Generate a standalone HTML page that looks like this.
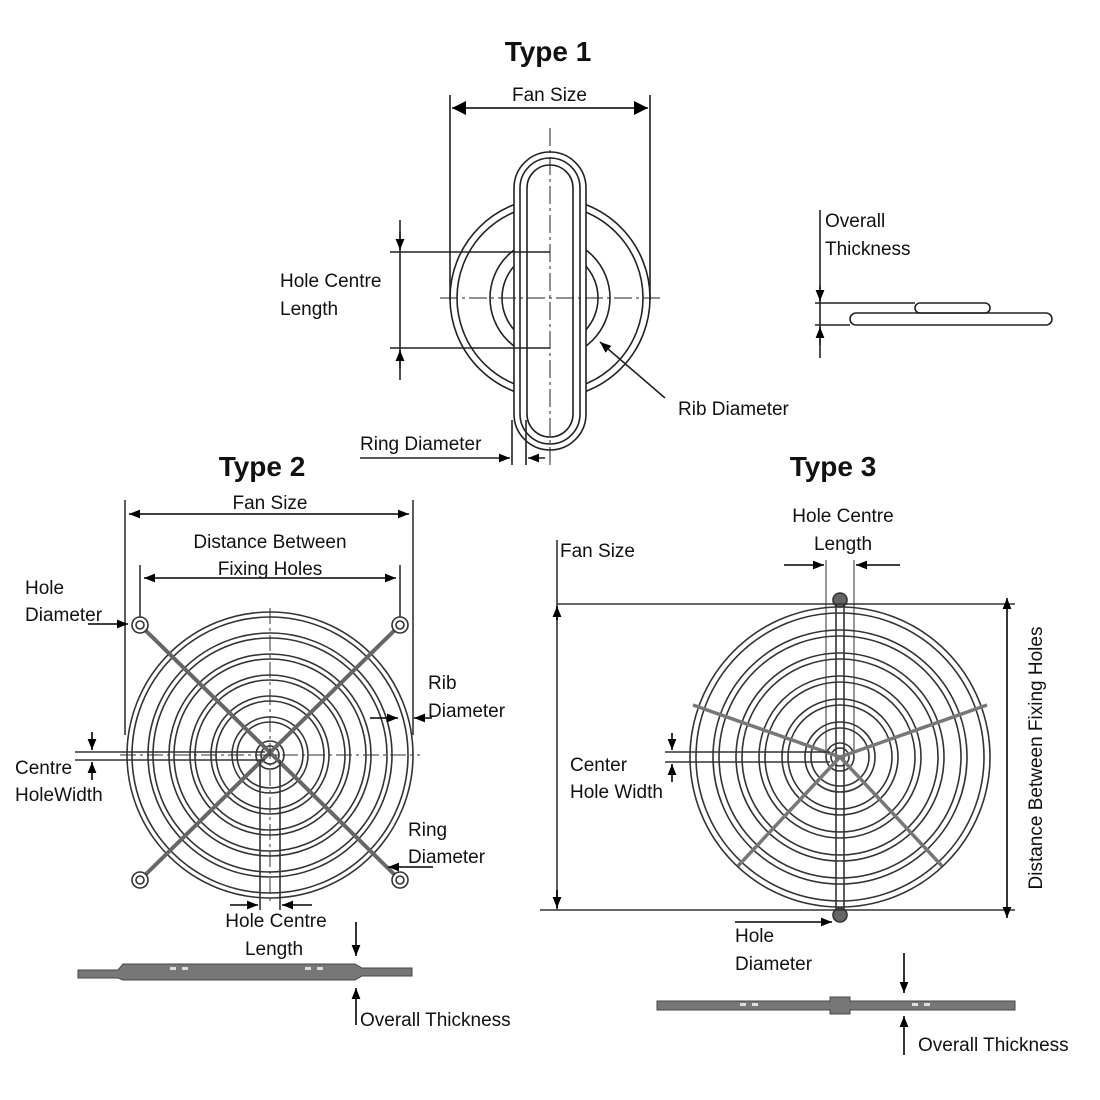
<!DOCTYPE html>
<html><head><meta charset="utf-8"><style>
html,body{margin:0;padding:0;background:#fff}
svg{display:block}
text{font-family:"Liberation Sans",sans-serif;fill:#111}
</style></head><body>
<svg width="1100" height="1100" viewBox="0 0 1100 1100" xmlns="http://www.w3.org/2000/svg">
<defs>
<marker id="a" viewBox="0 0 10 10" refX="10" refY="5" markerWidth="7" markerHeight="7" orient="auto-start-reverse"><path d="M0,1 L10,5 L0,9z" fill="#000"/></marker>
<marker id="b" viewBox="0 0 10 10" refX="10" refY="5" markerWidth="20" markerHeight="14" markerUnits="userSpaceOnUse" orient="auto-start-reverse"><path d="M0,0 L10,5 L0,10z" fill="#000"/></marker>
</defs>
<g font-size="19">
<!-- TYPE 1 -->
<text x="548" y="61" font-size="28" font-weight="bold" text-anchor="middle">Type 1</text>
<g stroke="#222" fill="none" stroke-width="1.6">
<line x1="450" y1="95" x2="450" y2="300"/><line x1="650" y1="95" x2="650" y2="300"/>
<line x1="452" y1="108" x2="648" y2="108" stroke="#000" stroke-width="1.5" marker-start="url(#b)" marker-end="url(#b)"/>
<circle cx="550" cy="298" r="100"/><circle cx="550" cy="298" r="93"/>
<circle cx="550" cy="298" r="60"/><circle cx="550" cy="298" r="48"/>
<rect x="514" y="152" width="72" height="298" rx="36" fill="#fff"/>
<rect x="520" y="158" width="60" height="286" rx="30"/>
<rect x="527" y="165" width="46" height="272" rx="23"/>
<line x1="440" y1="298" x2="660" y2="298" stroke-width="1" stroke-dasharray="18 4 3 4"/>
<line x1="550" y1="128" x2="550" y2="465" stroke-width="1" stroke-dasharray="18 4 3 4"/>
<line x1="390" y1="252" x2="550" y2="252"/><line x1="390" y1="348" x2="550" y2="348"/>
<line x1="400" y1="220" x2="400" y2="380"/>
<line x1="400" y1="232" x2="400" y2="250" marker-end="url(#a)"/>
<line x1="400" y1="368" x2="400" y2="350" marker-end="url(#a)"/>
<line x1="665" y1="398" x2="600" y2="342" marker-end="url(#a)"/>
<line x1="360" y1="458" x2="510" y2="458" marker-end="url(#a)"/>
<line x1="545" y1="458" x2="528" y2="458" marker-end="url(#a)"/>
<line x1="512" y1="420" x2="512" y2="465"/><line x1="526" y1="420" x2="526" y2="465"/>
<rect x="915" y="303" width="75" height="10" rx="5"/>
<rect x="850" y="313" width="202" height="12" rx="6"/>
<line x1="820" y1="210" x2="820" y2="358"/>
<line x1="815" y1="303" x2="915" y2="303"/><line x1="815" y1="325" x2="850" y2="325"/>
<line x1="820" y1="285" x2="820" y2="301" marker-end="url(#a)"/>
<line x1="820" y1="345" x2="820" y2="327" marker-end="url(#a)"/>
</g>
<text x="512" y="101">Fan Size</text>
<text x="280" y="287">Hole Centre</text><text x="280" y="315">Length</text>
<text x="678" y="415">Rib Diameter</text>
<text x="360" y="450">Ring Diameter</text>
<text x="825" y="227">Overall</text><text x="825" y="255">Thickness</text>

<!-- TYPE 2 -->
<text x="262" y="476" font-size="28" font-weight="bold" text-anchor="middle">Type 2</text>
<g stroke="#333" fill="none" stroke-width="1.6">
<line x1="125" y1="500" x2="125" y2="735"/><line x1="413" y1="500" x2="413" y2="735"/>
<line x1="129" y1="514" x2="409" y2="514" stroke="#000" marker-start="url(#a)" marker-end="url(#a)"/>
<line x1="140" y1="565" x2="140" y2="620"/><line x1="400" y1="565" x2="400" y2="620"/>
<line x1="144" y1="578" x2="396" y2="578" stroke="#000" marker-start="url(#a)" marker-end="url(#a)"/>
<circle cx="270" cy="755" r="143"/><circle cx="270" cy="755" r="138"/>
<circle cx="270" cy="755" r="122"/><circle cx="270" cy="755" r="117"/>
<circle cx="270" cy="755" r="101"/><circle cx="270" cy="755" r="96"/>
<circle cx="270" cy="755" r="80"/><circle cx="270" cy="755" r="75"/>
<circle cx="270" cy="755" r="59"/><circle cx="270" cy="755" r="54"/>
<circle cx="270" cy="755" r="38"/><circle cx="270" cy="755" r="33"/>
<circle cx="270" cy="755" r="14"/><circle cx="270" cy="755" r="9"/>
<line x1="140" y1="625" x2="400" y2="880" stroke-width="4" stroke="#666"/>
<line x1="400" y1="625" x2="140" y2="880" stroke-width="4" stroke="#666"/>
<line x1="270" y1="608" x2="270" y2="905" stroke-width="1" stroke-dasharray="16 4 3 4"/>
<line x1="120" y1="755" x2="420" y2="755" stroke-width="1" stroke-dasharray="16 4 3 4"/>
<circle cx="140" cy="625" r="8" fill="#fff"/><circle cx="140" cy="625" r="4"/>
<circle cx="400" cy="625" r="8" fill="#fff"/><circle cx="400" cy="625" r="4"/>
<circle cx="140" cy="880" r="8" fill="#fff"/><circle cx="140" cy="880" r="4"/>
<circle cx="400" cy="880" r="8" fill="#fff"/><circle cx="400" cy="880" r="4"/>
<line x1="88" y1="624" x2="128" y2="624" stroke="#000" marker-end="url(#a)"/>
<line x1="370" y1="718" x2="398" y2="718" stroke="#000" marker-end="url(#a)"/>
<line x1="432" y1="718" x2="414" y2="718" stroke="#000" marker-end="url(#a)"/>
<line x1="75" y1="752" x2="265" y2="752"/><line x1="75" y1="760" x2="265" y2="760"/>
<line x1="92" y1="732" x2="92" y2="750" stroke="#000" marker-end="url(#a)"/>
<line x1="92" y1="780" x2="92" y2="762" stroke="#000" marker-end="url(#a)"/>
<line x1="260" y1="760" x2="260" y2="910"/><line x1="280" y1="760" x2="280" y2="910"/>
<line x1="230" y1="905" x2="258" y2="905" stroke="#000" marker-end="url(#a)"/>
<line x1="312" y1="905" x2="282" y2="905" stroke="#000" marker-end="url(#a)"/>
<line x1="433" y1="867" x2="388" y2="867" stroke="#000" marker-end="url(#a)"/>
<line x1="356" y1="922" x2="356" y2="956" stroke="#000" marker-end="url(#a)"/>
<line x1="356" y1="1025" x2="356" y2="988" stroke="#000" marker-end="url(#a)"/>
</g>
<path d="M78,970 L118,970 L123,964 L355,964 L362,968 L412,968 L412,976 L362,976 L355,980 L123,980 L118,978 L78,978z" fill="#777" stroke="#444"/>
<g fill="#ddd"><rect x="170" y="967" width="6" height="3"/><rect x="182" y="967" width="6" height="3"/><rect x="305" y="967" width="6" height="3"/><rect x="317" y="967" width="6" height="3"/></g>
<text x="270" y="509" text-anchor="middle">Fan Size</text>
<text x="270" y="548" text-anchor="middle">Distance Between</text>
<text x="270" y="575" text-anchor="middle">Fixing Holes</text>
<text x="25" y="594">Hole</text><text x="25" y="621">Diameter</text>
<text x="428" y="689">Rib</text><text x="428" y="717">Diameter</text>
<text x="15" y="774">Centre</text><text x="15" y="801">HoleWidth</text>
<text x="408" y="836">Ring</text><text x="408" y="863">Diameter</text>
<text x="276" y="927" text-anchor="middle">Hole Centre</text>
<text x="274" y="955" text-anchor="middle">Length</text>
<text x="360" y="1026">Overall Thickness</text>

<!-- TYPE 3 -->
<text x="833" y="476" font-size="28" font-weight="bold" text-anchor="middle">Type 3</text>
<g stroke="#333" fill="none" stroke-width="1.6">
<circle cx="840" cy="757" r="150"/><circle cx="840" cy="757" r="144"/>
<circle cx="840" cy="757" r="127"/><circle cx="840" cy="757" r="121"/>
<circle cx="840" cy="757" r="104"/><circle cx="840" cy="757" r="98"/>
<circle cx="840" cy="757" r="81"/><circle cx="840" cy="757" r="75"/>
<circle cx="840" cy="757" r="58"/><circle cx="840" cy="757" r="52"/>
<circle cx="840" cy="757" r="35"/><circle cx="840" cy="757" r="29"/>
<circle cx="840" cy="757" r="14"/><circle cx="840" cy="757" r="9"/>
<line x1="836" y1="600" x2="836" y2="915"/><line x1="844" y1="600" x2="844" y2="915"/>
<line x1="826" y1="560" x2="826" y2="757" stroke-width="1"/><line x1="854" y1="560" x2="854" y2="757" stroke-width="1"/>
<g stroke-width="3.5" stroke="#777"><line x1="840" y1="757" x2="693" y2="705"/><line x1="840" y1="757" x2="987" y2="705"/>
<line x1="840" y1="757" x2="738" y2="866"/><line x1="840" y1="757" x2="942" y2="866"/></g>
<circle cx="840" cy="600" r="7" fill="#666"/><circle cx="840" cy="915" r="7" fill="#666"/>
<line x1="557" y1="540" x2="557" y2="910"/>
<line x1="557" y1="604" x2="1015" y2="604"/><line x1="540" y1="910" x2="1015" y2="910"/>
<line x1="557" y1="620" x2="557" y2="606" stroke="#000" marker-end="url(#a)"/>
<line x1="557" y1="890" x2="557" y2="908" stroke="#000" marker-end="url(#a)"/>
<line x1="1007" y1="598" x2="1007" y2="918" stroke="#000" marker-start="url(#a)" marker-end="url(#a)"/>
<line x1="784" y1="565" x2="824" y2="565" stroke="#000" marker-end="url(#a)"/>
<line x1="900" y1="565" x2="856" y2="565" stroke="#000" marker-end="url(#a)"/>
<line x1="665" y1="752" x2="830" y2="752"/><line x1="665" y1="762" x2="830" y2="762"/>
<line x1="672" y1="733" x2="672" y2="750" stroke="#000" marker-end="url(#a)"/>
<line x1="672" y1="782" x2="672" y2="764" stroke="#000" marker-end="url(#a)"/>
<line x1="735" y1="922" x2="832" y2="922" stroke="#000" marker-end="url(#a)"/>
<line x1="904" y1="953" x2="904" y2="993" stroke="#000" marker-end="url(#a)"/>
<line x1="904" y1="1055" x2="904" y2="1016" stroke="#000" marker-end="url(#a)"/>
</g>
<path d="M657,1001 L830,1001 L830,997 L850,997 L850,1001 L1015,1001 L1015,1010 L850,1010 L850,1014 L830,1014 L830,1010 L657,1010z" fill="#777" stroke="#444"/>
<g fill="#ddd"><rect x="740" y="1003" width="6" height="3"/><rect x="752" y="1003" width="6" height="3"/><rect x="912" y="1003" width="6" height="3"/><rect x="924" y="1003" width="6" height="3"/></g>
<text x="560" y="557">Fan Size</text>
<text x="843" y="522" text-anchor="middle">Hole Centre</text>
<text x="843" y="550" text-anchor="middle">Length</text>
<text x="570" y="771">Center</text><text x="570" y="798">Hole Width</text>
<text x="735" y="942">Hole</text><text x="735" y="970">Diameter</text>
<text x="918" y="1051">Overall Thickness</text>
<text transform="translate(1042,758) rotate(-90)" text-anchor="middle">Distance Between Fixing Holes</text>
</g>
</svg>
</body></html>
